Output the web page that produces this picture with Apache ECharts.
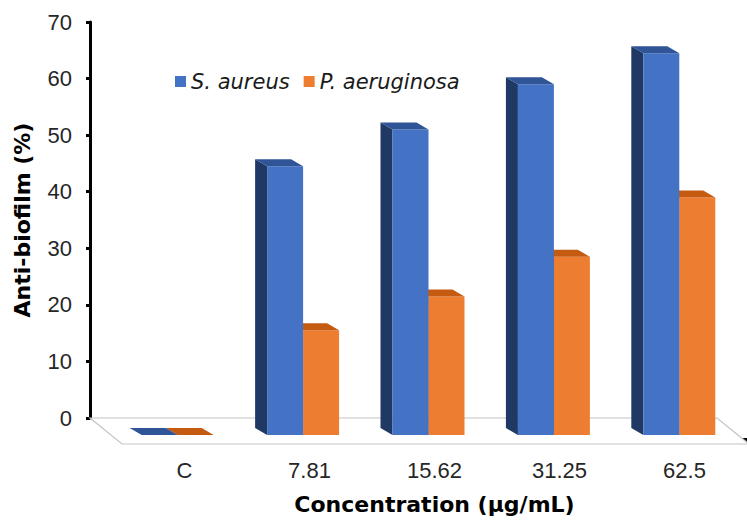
<!DOCTYPE html>
<html>
<head>
<meta charset="utf-8">
<script src="https://cdn.jsdelivr.net/npm/echarts@6/dist/echarts.min.js"></script>
<style>
  html, body { margin: 0; padding: 0; background: #fff; }
  #chart { width: 747px; height: 520px; }
</style>
</head>
<body>
<div id="chart"></div>
<script>
// ---- data ----
const categories = ['C', '7.81', '15.62', '31.25', '62.5'];
const sAureus = [0, 47.5, 54, 62, 67.5];
const pAeruginosa = [0, 18.5, 24.5, 31.5, 42];
const seriesNames = ['S. aureus', 'P. aeruginosa'];
const yMin = 0, yMax = 70, yStep = 10;

// ---- styling constants ----
const FRONT_DX = 25, FRONT_DY = 17;   // bar front face offset from back wall
const DEPTH_DX = -12, DEPTH_DY = -7;  // bar depth (towards back)
const FLOOR_DX = 32, FLOOR_DY = 26;   // floor depth
const BAR_RATIO = 0.287;
const palette = {
  blue: { front: '#4472C4', side: '#1F3864', top: '#2F5597' },
  orange: { front: '#ED7D31', side: '#843C0C', top: '#C55A11' }
};
const NAME_FONT = 'DejaVu Sans';
const TICK_FONT = 'Liberation Sans';

function barRenderer(pos, col) {
  return function (params, api) {
    const idx = api.value(0), val = api.value(1);
    const topPt = api.coord([idx, val]);
    const basePt = api.coord([idx, 0]);
    const band = api.size([1, 0])[0];
    const w = band * BAR_RATIO;
    const cx = topPt[0] + FRONT_DX;
    const x0 = pos === 0 ? cx - w : cx;
    const x1 = x0 + w;
    const yt = topPt[1] + FRONT_DY;
    const yb = basePt[1] + FRONT_DY;
    const children = [];
    children.push({
      type: 'polygon',
      shape: { points: [[x0, yt], [x0 + DEPTH_DX, yt + DEPTH_DY], [x0 + DEPTH_DX, yb + DEPTH_DY], [x0, yb]] },
      style: { fill: col.side }
    });
    if (yb - yt > 0.5) {
      children.push({
        type: 'rect',
        shape: { x: x0, y: yt, width: w, height: yb - yt },
        style: { fill: col.front }
      });
    }
    children.push({
      type: 'polygon',
      shape: { points: [[x0, yt], [x1, yt], [x1 + DEPTH_DX, yt + DEPTH_DY], [x0 + DEPTH_DX, yt + DEPTH_DY]] },
      style: { fill: col.top }
    });
    return { type: 'group', children: children };
  };
}

function floorRenderer(params, api) {
  const cs = params.coordSys;
  const xl = cs.x, xr = cs.x + cs.width, yb = cs.y + cs.height;
  return {
    type: 'polygon',
    shape: { points: [[xl, yb], [xr, yb], [xr + FLOOR_DX, yb + FLOOR_DY], [xl + FLOOR_DX, yb + FLOOR_DY]] },
    style: { fill: '#ffffff', stroke: '#c4c4c4', lineWidth: 1.2 }
  };
}

const chart = echarts.init(document.getElementById('chart'), null, { renderer: 'svg' });
chart.setOption({
  backgroundColor: '#ffffff',
  animation: false,
  legend: {
    data: seriesNames,
    left: 170, top: 66,
    icon: 'rect', itemWidth: 11, itemHeight: 11, itemGap: 14,
    textStyle: { fontFamily: NAME_FONT, fontSize: 21, fontStyle: 'italic', color: '#1a1a1a' }
  },
  grid: [
    { left: 90, top: 22, width: 627, height: 396 },
    { left: 90 + FLOOR_DX, top: 22 + FLOOR_DY, width: 627, height: 396 }
  ],
  xAxis: [
    { type: 'category', gridIndex: 0, data: categories, show: false, boundaryGap: true },
    {
      type: 'category', gridIndex: 1, data: categories, boundaryGap: true,
      axisLine: { lineStyle: { color: '#000', width: 3 } },
      axisTick: { show: true, length: 5, lineStyle: { color: '#000', width: 3 } },
      axisLabel: { fontFamily: TICK_FONT, fontSize: 22, color: '#262626', margin: 20 },
      name: 'Concentration (µg/mL)', nameLocation: 'middle', nameGap: 54,
      nameTextStyle: { fontFamily: NAME_FONT, fontSize: 22, fontWeight: 'bold', color: '#000' }
    }
  ],
  yAxis: [
    {
      type: 'value', gridIndex: 0, min: yMin, max: yMax, interval: yStep,
      splitLine: { show: false },
      axisLine: { show: true, lineStyle: { color: '#000', width: 3 } },
      axisTick: { show: true, length: 4, lineStyle: { color: '#000', width: 3 } },
      axisLabel: { fontFamily: TICK_FONT, fontSize: 22, color: '#262626', margin: 18 },
      name: 'Anti-biofilm (%)', nameLocation: 'middle', nameGap: 57, nameRotate: 90,
      nameTextStyle: { fontFamily: NAME_FONT, fontSize: 22, fontWeight: 'bold', color: '#000' }
    },
    { type: 'value', gridIndex: 1, min: yMin, max: yMax, show: false }
  ],
  series: [
    {
      type: 'custom', name: 'floor', xAxisIndex: 0, yAxisIndex: 0, z: 1,
      data: [[0, 0]], renderItem: floorRenderer, silent: true, clip: false
    },
    {
      type: 'custom', name: seriesNames[1], xAxisIndex: 0, yAxisIndex: 0, z: 2,
      itemStyle: { color: palette.orange.front },
      data: categories.map((c, i) => [i, pAeruginosa[i]]),
      renderItem: barRenderer(1, palette.orange), clip: false
    },
    {
      type: 'custom', name: seriesNames[0], xAxisIndex: 0, yAxisIndex: 0, z: 3,
      itemStyle: { color: palette.blue.front },
      data: categories.map((c, i) => [i, sAureus[i]]),
      renderItem: barRenderer(0, palette.blue), clip: false
    }
  ]
});
</script>
</body>
</html>
